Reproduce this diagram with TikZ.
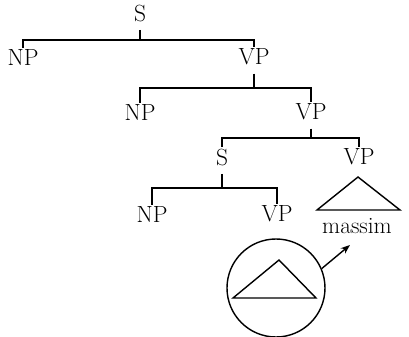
\documentclass[tikz,border=0pt]{standalone}
\usepackage{tikz}
\usetikzlibrary{arrows.meta, positioning}

\begin{document}
\begin{tikzpicture}[
    x=0.03cm, y=-0.03cm,
    cat/.style={inner sep=1pt, font=\fontsize{20}{23}\selectfont},
    branch/.style={line width=1.2pt},
    mother/.style={branch, shorten <=6pt},
    arrow/.style={line width=1.2pt, -{Stealth[length=8pt, width=6pt]}}
]
\useasboundingbox (0,0) rectangle (409,337);

\node[cat] (s0) at (140,13) {S};
\node[cat] (np1) at (23,57) {NP};
\node[cat] (vp1) at (254,57) {VP};
\node[cat] (np2) at (140,112) {NP};
\node[cat] (vp2) at (311,112) {VP};
\node[cat] (s3) at (222,157) {S};
\node[cat] (vp3) at (359,157) {VP};
\node[cat] (np4) at (152,214) {NP};
\node[cat] (vp4) at (277,214) {VP};
\node[cat] (massim) at (357,226) {massim};
\node[circle, draw, line width=1.2pt, minimum size=2.94cm, inner sep=0pt] (zoomed) at (276,288) {};

\coordinate (k0) at (140,40);
\coordinate (k1) at (254,88);
\coordinate (k2) at (311,138);
\coordinate (k3) at (222,188);
\coordinate (tip) at (350,245);

\draw[mother] (s0) -- (k0);
\draw[branch] (np1) |- (k0) -| (vp1);
\draw[mother] (vp1) -- (k1);
\draw[branch] (np2) |- (k1) -| (vp2);
\draw[mother] (vp2) -- (k2);
\draw[branch] (s3) |- (k2) -| (vp3);
\draw[mother] (s3) -- (k3);
\draw[branch] (np4) |- (k3) -| (vp4);

\draw[branch] (358,177) -- (317,210) -- (400,210) -- cycle;
\draw[branch] (279,260) -- (233,298) -- (316,298) -- cycle;

\draw[arrow] (zoomed.23) -- (tip);

\end{tikzpicture}
\end{document}
